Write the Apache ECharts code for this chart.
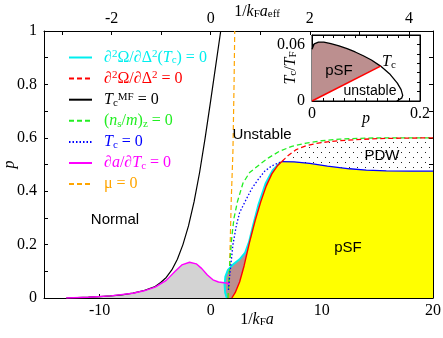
<!DOCTYPE html>
<html><head><meta charset="utf-8">
<script src="https://cdn.jsdelivr.net/npm/echarts@6/dist/echarts.min.js"></script>
<style>html,body{margin:0;padding:0;background:#fff}#c{width:443px;height:338px}</style>
</head><body><div id="c"></div>
<script>
// ---- main panel data: x = 1/kFa, y = p ----
const blackX = [-13, -11, -10, -9, -8, -7, -6, -5, -4.5, -4, -3.5, -3, -2.5, -2, -1.5, -1, -0.5, 0, 0.45, 0.9];
const blackY = [0, 0.003, 0.005, 0.008, 0.012, 0.018, 0.028, 0.043, 0.058, 0.077, 0.105, 0.145, 0.2, 0.27, 0.36, 0.47, 0.6, 0.74, 0.87, 1.0];
const magentaX = [-13, -11, -9, -7, -6, -5, -4, -3.2, -2.6, -1.9, -1.3, -0.8, -0.3, 0.2, 0.7, 1.2, 1.6, 1.6];
const magentaY = [0, 0.003, 0.008, 0.018, 0.027, 0.041, 0.066, 0.1, 0.124, 0.134, 0.128, 0.11, 0.086, 0.068, 0.06, 0.057, 0.055, 0.035];
const cyanX = [1.45, 1.3, 1.25, 1.32, 1.55, 2.0, 2.6, 3.1, 3.45, 3.8, 4.3, 4.95, 5.6, 6.3];
const cyanY = [0, 0.02, 0.05, 0.08, 0.105, 0.125, 0.145, 0.17, 0.21, 0.27, 0.35, 0.43, 0.48, 0.51];
const redSolidX = [1.9, 2.2, 2.6, 3.0, 3.5, 4.0, 4.5, 5.0, 5.5, 6.0, 6.4];
const redSolidY = [0, 0.02, 0.06, 0.12, 0.21, 0.29, 0.36, 0.42, 0.465, 0.495, 0.511];
const redDashX = [6.4, 7.0, 7.7, 8.5, 9.5, 10.5, 11.6, 13, 14.5, 16, 18, 20];
const redDashY = [0.511, 0.535, 0.556, 0.569, 0.579, 0.585, 0.589, 0.593, 0.596, 0.598, 0.599, 0.6];
const greenX = [1.55, 1.62, 1.75, 1.9, 2.1, 2.4, 2.9, 3.5, 4.4, 5.2, 6.2, 7.3, 8.6, 10, 11.6, 14, 17, 20];
const greenY = [0, 0.05, 0.15, 0.23, 0.3, 0.36, 0.43, 0.47, 0.5, 0.525, 0.55, 0.568, 0.58, 0.589, 0.595, 0.599, 0.6, 0.6];
const blueDotX = [1.6, 1.7, 1.86, 2.0, 2.3, 2.6, 3.2, 3.7, 4.2, 4.86, 5.5, 6.4];
const blueDotY = [0.03, 0.08, 0.143, 0.2, 0.27, 0.32, 0.37, 0.41, 0.44, 0.475, 0.495, 0.511];
const blueSolidX = [6.4, 7.5, 8.9, 10.5, 12.5, 14, 15.8, 18, 20];
const blueSolidY = [0.511, 0.51, 0.504, 0.494, 0.484, 0.479, 0.476, 0.475, 0.475];
const orangeX = [1.62, 1.75, 1.85, 2.0, 2.1, 2.16];
const orangeY = [0, 0.2, 0.37, 0.55, 0.8, 1.0];

// ---- inset data: x = p, y = Tc/TF ----
const insetTcP = [0, 0.004, 0.012, 0.022, 0.035, 0.05, 0.065, 0.08, 0.095, 0.11, 0.127, 0.145, 0.158, 0.165, 0.168, 0.166, 0.157];
const insetTcT = [0.055, 0.0605, 0.0625, 0.0625, 0.0608, 0.0585, 0.0555, 0.052, 0.048, 0.0435, 0.037, 0.028, 0.019, 0.012, 0.006, 0.003, 0.0];
const insetRedP = [0, 0.127];
const insetRedT = [0, 0.037];

// ---- tick labels ----
const bottomLabels = [-10, 0, 10, 20];
const leftLabels = [0, 0.2, 0.4, 0.6, 0.8, 1];
const topTickT = [-3, -2, -1, 0, 1, 2, 3, 4];
const topLabelT = [-2, 0, 2, 4];
const aeffScale = 4.46; // 1/kFa units per 1/kFa_eff unit
const insetXLabels = [0, 0.2];
const insetYLabels = [0, 0.06];

const SERIF = 'Liberation Serif';
const SANS = 'Liberation Sans';
const zip = (xs, ys) => xs.map((x, i) => [x, ys[i]]);
const last = a => a[a.length - 1];
const near = (v, list) => list.some(t => Math.abs(t - v) < 1e-6);
const fmtNum = v => String(Math.round(v * 1000) / 1000);

function mkRich(color) {
  const c = color ? { color } : {};
  return {
    r: Object.assign({ fontFamily: SERIF, fontSize: 16, lineHeight: 17 }, c),
    i: Object.assign({ fontFamily: SERIF, fontSize: 16, fontStyle: 'italic', lineHeight: 17 }, c),
    sup: Object.assign({ fontFamily: SERIF, fontSize: 11, lineHeight: 11, verticalAlign: 'top' }, c),
    sub: Object.assign({ fontFamily: SERIF, fontSize: 11, lineHeight: 11, verticalAlign: 'bottom' }, c)
  };
}

const COLORS = { cyan: '#00eeee', red: '#ff0000', black: '#000000', green: '#22ee22', blue: '#0000ff', magenta: '#ff00ff', orange: '#ffa500' };
const legendText = {
  cyan: '{r|∂}{sup|2}{r|Ω/∂Δ}{sup|2}{r|(}{i|T}{sub|c}{r|) = 0}',
  red: '{r|∂}{sup|2}{r|Ω/∂Δ}{sup|2}{r| = 0}',
  black: '{i|T}{sub|c}{sup|MF}{r| = 0}',
  green: '{r|(}{i|n}{sub|s}{r|/}{i|m}{r|)}{sub|z}{r| = 0}',
  blue: '{i|T}{sub|c}{r| = 0}',
  magenta: '{r|∂}{i|a}{r|/∂}{i|T}{sub|c}{r| = 0}',
  orange: '{r|μ = 0}'
};

// dot pattern for PDW region
const pat = document.createElement('canvas');
pat.width = 8; pat.height = 10;
(function () {
  const g = pat.getContext('2d');
  g.fillStyle = '#222';
  g.fillRect(1, 2, 1, 1);
  g.fillRect(5, 7, 1, 1);
})();

function polySeries(points, fill, xi, yi, z) {
  return {
    type: 'custom', xAxisIndex: xi, yAxisIndex: yi, z: z, silent: true,
    data: [points[0]],
    renderItem: (params, api) => ({
      type: 'polygon',
      shape: { points: points.map(p => api.coord(p)) },
      style: { fill: fill, stroke: null }
    })
  };
}
function lineSeries(name, xs, ys, color, type, width, xi, yi, z) {
  return {
    type: 'line', name: name, data: zip(xs, ys), xAxisIndex: xi || 0, yAxisIndex: yi || 0,
    symbol: 'none', showSymbol: false, silent: true, z: z || 3,
    lineStyle: { color: color, width: width, type: type },
    itemStyle: { color: color }
  };
}

// polygons from the data arrays
const grayPoly = zip(magentaX, magentaY).concat([[last(magentaX), 0], [magentaX[0], 0]]);
const yellowPoly = zip(redSolidX, redSolidY).concat(zip(blueSolidX, blueSolidY).slice(1), [[last(blueSolidX), 0]]);
const brownPoly = zip(cyanX, cyanY).concat(zip(redSolidX, redSolidY).reverse());
const pdwPoly = zip(blueSolidX, blueSolidY).concat(zip(redDashX, redDashY).reverse());
const jIdx = insetTcP.indexOf(last(insetRedP));
const insetPoly = zip(insetRedP, insetRedT).concat(zip(insetTcP.slice(0, jIdx), insetTcT.slice(0, jIdx)).reverse());

const tickStyle = { show: true, inside: true, length: 4, lineStyle: { color: '#000', width: 1 } };
const lineStyleAx = { show: true, onZero: false, lineStyle: { color: '#000', width: 1 } };
const labelBase = { color: '#000', fontFamily: SERIF, fontSize: 16, rich: mkRich('#000') };
const lbl = s => s === '' ? '' : '{r|' + s + '}';

const chart = echarts.init(document.getElementById('c'), null, { renderer: 'canvas' });
chart.setOption({
  animation: false,
  backgroundColor: '#fff',
  grid: [
    { left: 44, right: 10, top: 31, bottom: 40, show: false, containLabel: false, outerBoundsMode: 'none' },
    { left: 312, top: 35, width: 108, height: 66, show: true, backgroundColor: '#fff', borderColor: '#000', borderWidth: 1, z: 5, containLabel: false, outerBoundsMode: 'none' }
  ],
  xAxis: [
    {
      gridIndex: 0, type: 'value', position: 'bottom', min: -15, max: 20, interval: 5,
      axisLine: lineStyleAx, axisTick: tickStyle, splitLine: { show: false },
      axisLabel: Object.assign({}, labelBase, { margin: 4, formatter: v => lbl(near(v, bottomLabels) ? fmtNum(v) : '') }),
      name: '{r|1/}{i|k}{sub|F}{i|a}', nameLocation: 'middle', nameGap: 13, nameMoveOverlap: false,
      nameTextStyle: { rich: mkRich('#000'), padding: [0, 0, 0, 37] }
    },
    {
      gridIndex: 0, type: 'value', position: 'top', min: -15, max: 20,
      axisLine: lineStyleAx,
      axisTick: Object.assign({}, tickStyle, { customValues: topTickT.map(t => t * aeffScale) }),
      splitLine: { show: false },
      axisLabel: Object.assign({}, labelBase, { margin: 4, customValues: topLabelT.map(t => t * aeffScale), formatter: v => lbl(String(Math.round(v / aeffScale))) }),
      name: '{r|1/}{i|k}{sub|F}{i|a}{sub|eff}', nameLocation: 'middle', nameGap: 11, nameMoveOverlap: false,
      nameTextStyle: { rich: mkRich('#000'), padding: [0, 0, 0, 37] }
    },
    {
      gridIndex: 1, type: 'value', position: 'bottom', min: 0, max: 0.2, interval: 0.02, z: 6,
      axisLine: lineStyleAx, axisTick: Object.assign({}, tickStyle, { length: 3 }), splitLine: { show: false },
      axisLabel: Object.assign({}, labelBase, { margin: 4, formatter: v => lbl(near(v, insetXLabels) ? fmtNum(v) : '') }),
      name: '{i|p}', nameLocation: 'middle', nameGap: 9, nameMoveOverlap: false, nameTextStyle: { rich: mkRich('#000') }
    },
    {
      gridIndex: 1, type: 'value', position: 'top', min: 0, max: 0.2, interval: 0.02, z: 6,
      axisLine: lineStyleAx, axisTick: Object.assign({}, tickStyle, { length: 3 }), splitLine: { show: false },
      axisLabel: { show: false }
    }
  ],
  yAxis: [
    {
      gridIndex: 0, type: 'value', position: 'left', min: 0, max: 1, interval: 0.1,
      axisLine: lineStyleAx, axisTick: tickStyle, splitLine: { show: false },
      axisLabel: Object.assign({}, labelBase, { margin: 7, formatter: v => lbl(near(v, leftLabels) ? fmtNum(v) : '') }),
      name: '{i|p}', nameLocation: 'middle', nameGap: 26, nameMoveOverlap: false, nameTextStyle: { rich: mkRich('#000') }
    },
    {
      gridIndex: 0, type: 'value', position: 'right', min: 0, max: 1, interval: 0.1,
      axisLine: lineStyleAx, axisTick: tickStyle, splitLine: { show: false }, axisLabel: { show: false }
    },
    {
      gridIndex: 1, type: 'value', position: 'left', min: 0, max: 0.07, interval: 0.01, z: 6,
      axisLine: lineStyleAx, axisTick: Object.assign({}, tickStyle, { length: 3 }), splitLine: { show: false },
      axisLabel: Object.assign({}, labelBase, { margin: 7, formatter: v => lbl(near(v, insetYLabels) ? fmtNum(v) : '') }),
      name: '{i|T}{sub|c}{r|/}{i|T}{sub|F}', nameLocation: 'middle', nameGap: 13, nameMoveOverlap: false, nameTextStyle: { rich: mkRich('#000') }
    },
    {
      gridIndex: 1, type: 'value', position: 'right', min: 0, max: 0.07, interval: 0.01, z: 6,
      axisLine: lineStyleAx, axisTick: Object.assign({}, tickStyle, { length: 3 }), splitLine: { show: false }, axisLabel: { show: false }
    }
  ],
  legend: {
    orient: 'vertical', left: 63, top: 44, itemWidth: 23, itemHeight: 10, itemGap: 4.1,
    selectedMode: false,
    itemStyle: { color: 'rgba(0,0,0,0)', borderWidth: 0, opacity: 0 },
    formatter: name => legendText[name],
    textStyle: { rich: mkRich(), fontFamily: SERIF, fontSize: 16, lineHeight: 17, padding: [0, 0, 0, 7] },
    data: ['cyan', 'red', 'black', 'green', 'blue', 'magenta', 'orange'].map(n => ({ name: n, textStyle: { color: COLORS[n] } }))
  },
  graphic: [
    { type: 'text', z: 10, style: { text: 'Normal', x: 115, y: 220, font: '15px ' + SANS, fill: '#000', align: 'center', verticalAlign: 'middle' } },
    { type: 'text', z: 10, style: { text: 'Unstable', x: 262, y: 135, font: '15px ' + SANS, fill: '#000', align: 'center', verticalAlign: 'middle' } },
    { type: 'text', z: 10, style: { text: 'PDW', x: 382, y: 156, font: '15px ' + SANS, fill: '#000', align: 'center', verticalAlign: 'middle' } },
    { type: 'text', z: 10, style: { text: 'pSF', x: 348, y: 248, font: '15px ' + SANS, fill: '#000', align: 'center', verticalAlign: 'middle' } },
    { type: 'text', z: 10, style: { text: 'pSF', x: 339, y: 71, font: '15px ' + SANS, fill: '#000', align: 'center', verticalAlign: 'middle' } },
    { type: 'text', z: 10, style: { text: 'unstable', x: 370, y: 91, font: '14px ' + SANS, fill: '#000', align: 'center', verticalAlign: 'middle' } },
    { type: 'text', z: 10, style: { text: '{i|T}{sub|c}', x: 382, y: 62, rich: mkRich('#000'), fill: '#000', align: 'left', verticalAlign: 'middle' } }
  ],
  series: [
    polySeries(grayPoly, '#d3d3d3', 0, 0, 1),
    polySeries(yellowPoly, '#ffff00', 0, 0, 1),
    polySeries(brownPoly, '#bc8f8f', 0, 0, 1),
    polySeries(pdwPoly, { image: pat, repeat: 'repeat' }, 0, 0, 1),
    lineSeries('cyan', cyanX, cyanY, COLORS.cyan, 'solid', 2),
    lineSeries('black', blackX, blackY, COLORS.black, 'solid', 1.2),
    lineSeries('magenta', magentaX, magentaY, COLORS.magenta, 'solid', 1.4),
    lineSeries('orange', orangeX, orangeY, COLORS.orange, [5, 3], 1.2),
    lineSeries('green', greenX, greenY, COLORS.green, [5, 3], 1.3),
    lineSeries('blue', blueDotX, blueDotY, COLORS.blue, [1.5, 2], 1.3),
    lineSeries('blueSolid', blueSolidX, blueSolidY, COLORS.blue, 'solid', 1.3),
    lineSeries('red', redDashX, redDashY, COLORS.red, [5, 3], 1.3),
    lineSeries('redSolid', redSolidX, redSolidY, COLORS.red, 'solid', 1.4),
    polySeries(insetPoly, '#bc8f8f', 2, 2, 7),
    lineSeries('insetTc', insetTcP, insetTcT, '#000', 'solid', 1.3, 2, 2, 8),
    lineSeries('insetRed', insetRedP, insetRedT, '#ff0000', 'solid', 1.5, 2, 2, 8)
  ]
});
</script>
</body></html>
